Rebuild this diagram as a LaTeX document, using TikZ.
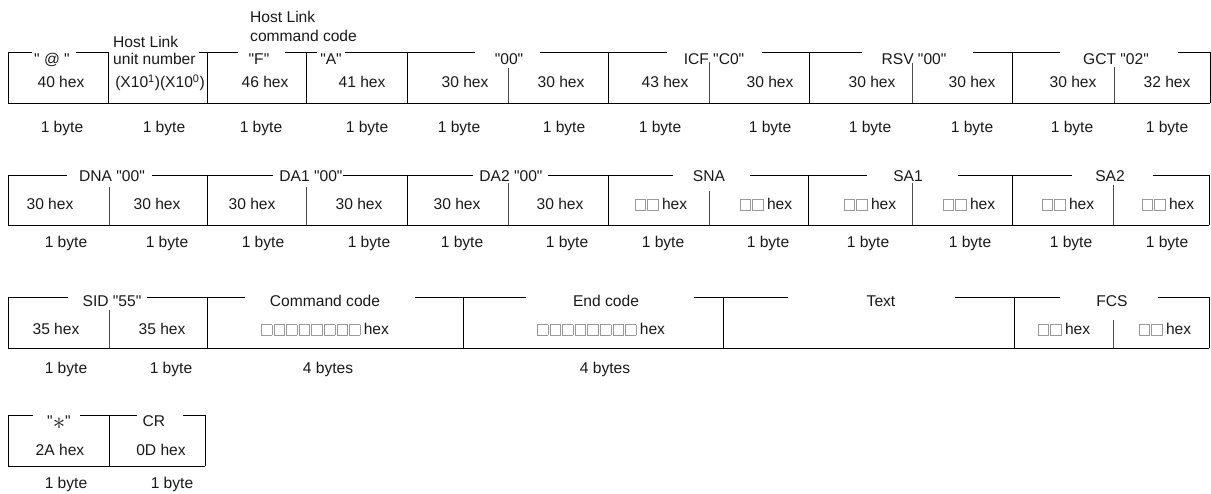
\documentclass[tikz,border=0pt]{standalone}
\usepackage{fontspec}
\setmainfont{Liberation Sans}[Ligatures=TeXOff]
\newcommand\fs{\fontsize{15.6}{18}\selectfont}
\newcommand\sqbox{{\color{black!40}\fboxsep=0pt\fboxrule=0.7pt\fbox{\rule{0pt}{9.8pt}\rule{9.8pt}{0pt}}}\hspace{1.4pt}}
\newcommand\sqtwo{\sqbox\sqbox\hspace{2pt}hex}
\newcommand\sqeight{\sqbox\sqbox\sqbox\sqbox\sqbox\sqbox\sqbox\sqbox\hspace{2pt}hex}
\tikzset{
  frame/.style={line width=0.9pt, black},
  sub/.style={line width=0.8pt, black!70},
  lbl/.style={anchor=base, inner sep=0pt, font=\fs, text=black!90},
  lft/.style={anchor=base west, inner sep=0pt, font=\fs, text=black!90},
}
\begin{document}
\begin{tikzpicture}[x=1pt,y=-1pt]
\useasboundingbox (0,0) rectangle (1211,494);

% ================= Row 1 =================
\draw[frame] (8,52) -- (32,52) (76,52) -- (108,52)
  (199,52) -- (238,52) (285,52) -- (317,52) (345,52) -- (475,52)
  (540,52) -- (667,52) (762,52) -- (862,52) (973,52) -- (1060,52)
  (1178,52) -- (1210,52);
\draw[frame] (8,103) -- (1210,103);
\foreach \x in {8,108,207,306,407,608,809,1012,1210}
  \draw[frame] (\x,52) -- (\x,103);
\draw[sub] (508,68) -- (508,103) (709,62) -- (709,103)
  (912,63) -- (912,103) (1114,67) -- (1114,103);

\node[lbl] (l1a) at (52,65) {" @ "};
\node[lft] (l1b1) at (113,48) {Host Link};
\node[lft] (l1b2) at (113,65) {unit number};
\node[lft] (l1c1) at (250,23) {Host Link};
\node[lft] (l1c2) at (250,42) {command code};
\node[lbl] (l1d) at (259,65) {"F"};
\node[lbl] (l1e) at (331,65) {"A"};
\node[lbl] (l1f) at (509,65) {"00"};
\node[lbl] (l1g) at (714,65) {ICF "C0"};
\node[lbl] (l1h) at (914,65) {RSV "00"};
\node[lbl] (l1i) at (1116,65) {GCT "02"};

\node[lbl] (v1a) at (61,88) {40 hex};
\node[lbl] (v1b) at (160,88) {(X10\textsuperscript{1})(X10\textsuperscript{0})};
\node[lbl] (v1c) at (265,88) {46 hex};
\node[lbl] (v1d) at (362,88) {41 hex};
\node[lbl] (v1e) at (465,88) {30 hex};
\node[lbl] (v1f) at (561,88) {30 hex};
\node[lbl] (v1g) at (665,88) {43 hex};
\node[lbl] (v1h) at (770,88) {30 hex};
\node[lbl] (v1i) at (872,88) {30 hex};
\node[lbl] (v1j) at (972,88) {30 hex};
\node[lbl] (v1k) at (1073,88) {30 hex};
\node[lbl] (v1l) at (1167,88) {32 hex};

\foreach \x [count=\i] in {62,164,261,367,459,564,660,770,870,972,1072,1167}
  \node[lbl] (b1\i) at (\x,133) {1 byte};

% ================= Row 2 =================
\draw[frame] (8,175) -- (67,175) (152,175) -- (273,175) (343,175) -- (473,175)
  (548,175) -- (673,175) (750,175) -- (867,175) (958,175) -- (1072,175)
  (1153,175) -- (1209,175);
\draw[frame] (8,225) -- (1209,225);
\foreach \x in {8,207,407,608,808,1012,1209}
  \draw[frame] (\x,175) -- (\x,225);
\draw[sub] (109,187) -- (109,225) (306,187) -- (306,225) (508,183) -- (508,225)
  (709,191) -- (709,225) (912,183) -- (912,225) (1113,185) -- (1113,225);

\node[lbl] (l2a) at (112,182) {DNA "00"};
\node[lbl] (l2b) at (311,182) {DA1 "00"};
\node[lbl] (l2c) at (511,182) {DA2 "00"};
\node[lbl] (l2d) at (709,182) {SNA};
\node[lbl] (l2e) at (908,182) {SA1};
\node[lbl] (l2f) at (1110,182) {SA2};

\foreach \x [count=\i] in {50,157,252,359,457,560}
  \node[lbl] (v2\i) at (\x,210) {30 hex};
\foreach \x [count=\i] in {661,766,870,969,1068,1168}
  \node[lbl] (w2\i) at (\x,210) {\sqtwo};

\foreach \x [count=\i] in {66,167,263,369,462,567,663,768,868,970,1071,1167}
  \node[lbl] (b2\i) at (\x,248) {1 byte};

% ================= Row 3 =================
\draw[frame] (8,297) -- (68,297) (147,297) -- (245,297) (415,297) -- (526,297)
  (694,297) -- (788,297) (955,297) -- (1060,297) (1158,297) -- (1209,297);
\draw[frame] (8,348) -- (1209,348);
\foreach \x in {8,207,463,723,1014,1209}
  \draw[frame] (\x,297) -- (\x,348);
\draw[sub] (109,310) -- (109,348) (1113,320) -- (1113,348);

\node[lbl] (l3a) at (112,307) {SID "55"};
\node[lbl] (l3b) at (325,307) {Command code};
\node[lbl] (l3c) at (606,307) {End code};
\node[lbl] (l3d) at (881,307) {Text};
\node[lbl] (l3e) at (1112,307) {FCS};

\node[lbl] (v3a) at (56,335) {35 hex};
\node[lbl] (v3b) at (162,335) {35 hex};
\node[lbl] (v3c) at (325,335) {\sqeight};
\node[lbl] (v3d) at (601,335) {\sqeight};
\node[lbl] (v3e) at (1064,335) {\sqtwo};
\node[lbl] (v3f) at (1165,335) {\sqtwo};

\node[lbl] (b3a) at (66,374) {1 byte};
\node[lbl] (b3b) at (171,374) {1 byte};
\node[lbl] (b3c) at (328,374) {4 bytes};
\node[lbl] (b3d) at (605,374) {4 bytes};

% ================= Row 4 =================
\draw[frame] (8,415) -- (33,415) (80,415) -- (137,415) (183,415) -- (205,415);
\draw[frame] (8,466) -- (205,466);
\foreach \x in {8,109,205}
  \draw[frame] (\x,415) -- (\x,466);

\node[lbl] (l4a) at (59,427) {"\raisebox{-3pt}{\fontsize{26}{26}\selectfont$\ast$}"};
\node[lbl] (l4b) at (154,427) {CR};

\node[lbl] (v4a) at (60,455) {2A hex};
\node[lbl] (v4b) at (161,455) {0D hex};

\node[lbl] (b4a) at (66,488) {1 byte};
\node[lbl] (b4b) at (172,488) {1 byte};
\end{tikzpicture}
\end{document}
